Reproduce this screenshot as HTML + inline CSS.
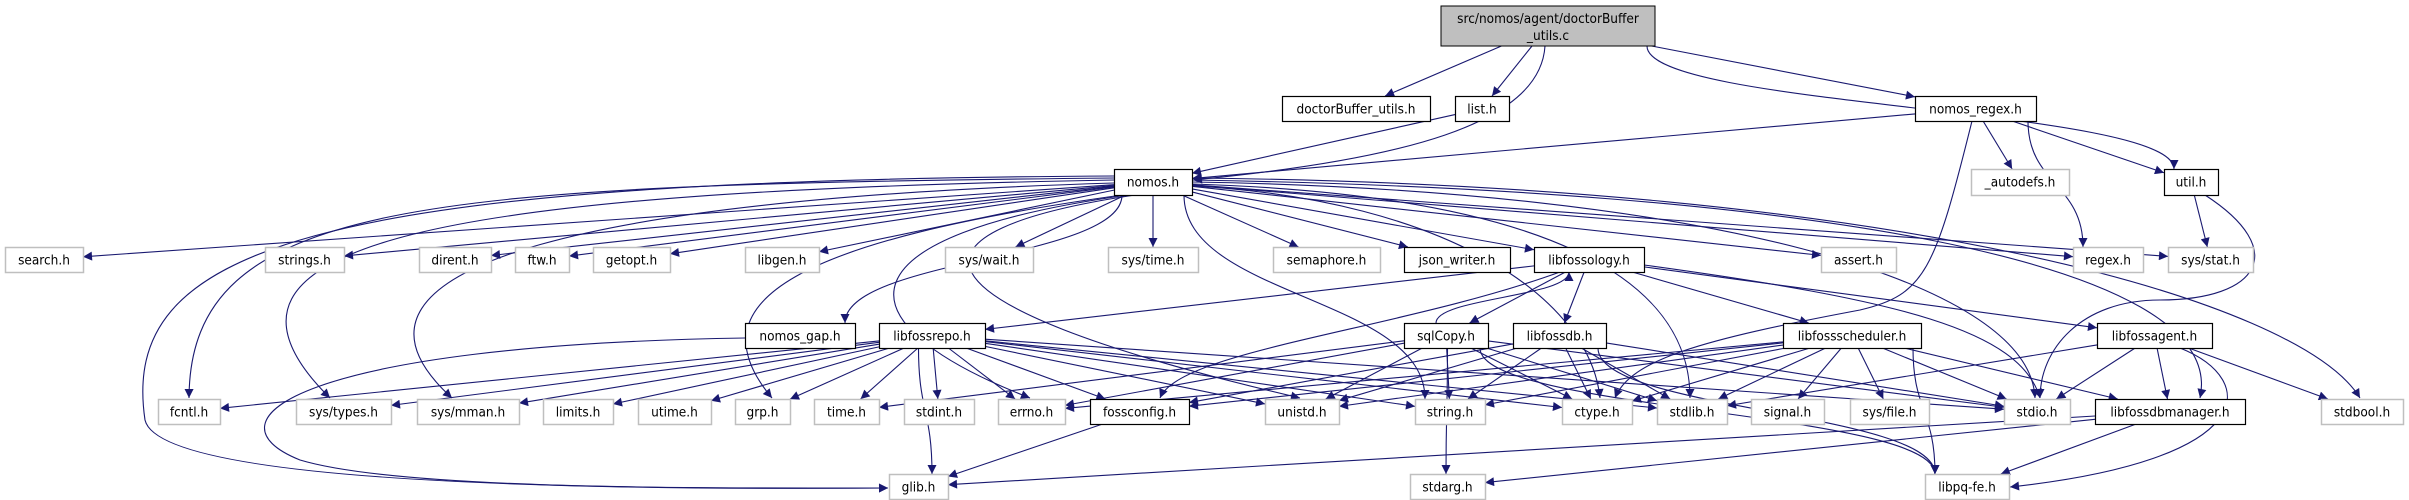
<!DOCTYPE html>
<html><head><meta charset="utf-8">
<style>
html,body{margin:0;padding:0;background:#fff;}
svg{display:block;}
text{font-family:"DejaVu Sans Condensed","DejaVu Sans","Liberation Sans",sans-serif;font-size:13.5px;fill:#000;}
</style></head>
<body>
<svg id="g" width="2409" height="500" viewBox="0 0 2409 500" xmlns="http://www.w3.org/2000/svg">
<defs>
<marker id="a" viewBox="0 0 10 10" refX="10" refY="5" markerWidth="11" markerHeight="9" markerUnits="userSpaceOnUse" orient="auto">
<path d="M0,0 L10,5 L0,10 z" fill="#191970"/>
</marker>
</defs>
<g id="edges"></g>
<g id="nodes">
<rect x="1441" y="6" width="214" height="40" fill="#bfbfbf" stroke="#000"/>
<text x="1548" y="23" text-anchor="middle">src/nomos/agent/doctorBuffer</text>
<text x="1548" y="40" text-anchor="middle">_utils.c</text>
</g>
</svg>
<script>
var R=[[6,46],[96,121],[169,195],[247,272],[323,348],[399,424],[474,499]];
var N={
"doctorBuffer_utils.h":[1282,1430,1,1],"list.h":[1455,1509,1,1],"nomos_regex.h":[1915,2036,1,1],
"nomos.h":[1114,1192,2,1],"_autodefs.h":[1971,2069,2,0],"util.h":[2164,2218,2,1],
"search.h":[5,83,3,0],"strings.h":[265,344,3,0],"dirent.h":[419,491,3,0],"ftw.h":[515,569,3,0],"getopt.h":[593,670,3,0],"libgen.h":[745,819,3,0],"sys/wait.h":[945,1033,3,0],"sys/time.h":[1108,1198,3,0],"semaphore.h":[1273,1380,3,0],"json_writer.h":[1404,1510,3,1],"libfossology.h":[1534,1644,3,1],"assert.h":[1821,1896,3,0],"regex.h":[2073,2143,3,0],"sys/stat.h":[2168,2253,3,0],
"nomos_gap.h":[745,855,4,1],"libfossrepo.h":[879,985,4,1],"sqlCopy.h":[1404,1488,4,1],"libfossdb.h":[1513,1606,4,1],"libfossscheduler.h":[1783,1921,4,1],"libfossagent.h":[2097,2212,4,1],
"fcntl.h":[158,220,5,0],"sys/types.h":[296,391,5,0],"sys/mman.h":[417,519,5,0],"limits.h":[543,613,5,0],"utime.h":[638,711,5,0],"grp.h":[735,790,5,0],"time.h":[814,879,5,0],"stdint.h":[904,974,5,0],"errno.h":[998,1065,5,0],"fossconfig.h":[1090,1189,5,1],"unistd.h":[1265,1339,5,0],"string.h":[1415,1485,5,0],"ctype.h":[1562,1632,5,0],"stdlib.h":[1657,1727,5,0],"signal.h":[1751,1824,5,0],"sys/file.h":[1850,1929,5,0],"stdio.h":[2004,2070,5,0],"libfossdbmanager.h":[2095,2245,5,1],"stdbool.h":[2321,2403,5,0],
"glib.h":[889,948,6,0],"stdarg.h":[1410,1485,6,0],"libpq-fe.h":[1925,2009,6,0]
};
N["ROOT"]=[1441,1655,0,1];
var ns="http://www.w3.org/2000/svg",G=document.getElementById("nodes"),E=document.getElementById("edges");
for(var k in N){if(k=="ROOT")continue;var n=N[k],r=R[n[2]];
var re=document.createElementNS(ns,"rect");re.setAttribute("x",n[0]+.5);re.setAttribute("y",r[0]+.5);re.setAttribute("width",n[1]-n[0]);re.setAttribute("height",r[1]-r[0]);re.setAttribute("fill","#fff");re.setAttribute("stroke",n[3]?"#000":"#bfbfbf");re.setAttribute("stroke-width",n[3]?"1.2":"1.5");G.appendChild(re);
var t=document.createElementNS(ns,"text");t.setAttribute("x",(n[0]+n[1])/2);t.setAttribute("y",r[0]+17.5);t.setAttribute("text-anchor","middle");t.textContent=k;G.appendChild(t);}
function box(k){var n=N[k],r=R[n[2]];return{x1:n[0],x2:n[1],y1:r[0],y2:r[1],cx:(n[0]+n[1])/2,cy:(r[0]+r[1])/2,row:n[2]};}
function clip(b,px,py,qx,qy){var dx=qx-px,dy=qy-py,t=1;
if(dx>0)t=Math.min(t,(b.x2-px)/dx);if(dx<0)t=Math.min(t,(b.x1-px)/dx);
if(dy>0)t=Math.min(t,(b.y2-py)/dy);if(dy<0)t=Math.min(t,(b.y1-py)/dy);return[px+dx*t,py+dy*t];}
function cl(v,a,b){return Math.max(a,Math.min(b,v));}
var O={
"ROOT>nomos.h":"M1545,46 C1540,125 1400,160 1193,180",
"nomos.h>fcntl.h":"M1114,178 C420,185 190,200 189,398",
"nomos.h>sys/types.h":"M1114,180 C450,192 170,240 330,398",
"nomos.h>sys/mman.h":"M1114,183 C620,198 300,260 452,398",
"nomos.h>glib.h":"M1114,176 C300,180 120,250 145,420 C160,485 600,490 888,488",
"nomos.h>grp.h":"M1122,195 C800,240 690,300 772,398",
"nomos.h>errno.h":"M1128,195 C840,235 830,320 1030,398",
"nomos.h>unistd.h":"M1135,195 C900,230 880,300 1300,398",
"nomos.h>ctype.h":"M1192,186 C1450,200 1590,300 1600,398",
"nomos.h>stdlib.h":"M1192,184 C1550,195 1690,280 1690,398",
"nomos.h>stdio.h":"M1192,182 C1700,190 2030,280 2035,398",
"nomos.h>libfossdbmanager.h":"M1192,180 C1800,190 2230,260 2200,398",
"nomos.h>stdbool.h":"M1192,178 C1900,185 2300,300 2360,398",
"libfossology.h>fossconfig.h":"M1560,272 C1400,330 1180,350 1160,398",
"libfossology.h>stdio.h":"M1644,265 C1900,300 2020,330 2040,398",
"nomos_regex.h>ctype.h":"M1972,121 C1935,270 1925,295 1860,310 C1700,340 1630,360 1615,398",
"util.h>stdio.h":"M2205,195 C2290,250 2260,300 2160,300 C2080,300 2040,350 2040,398",
"nomos_gap.h>glib.h":"M745,338 C300,345 200,420 300,460 C400,490 700,488 888,488",
"libfossagent.h>libpq-fe.h":"M2180,348 C2260,380 2260,460 2010,487"
};
function add(d){var pa=document.createElementNS(ns,"path");pa.setAttribute("d",d);pa.setAttribute("fill","none");pa.setAttribute("stroke","#191970");pa.setAttribute("stroke-width","1.1");pa.setAttribute("marker-end","url(#a)");E.appendChild(pa);}
function e(s,t,back){if(O[s+">"+t]){add(O[s+">"+t]);return;}
var a=box(s),b=box(t);
if(back){add("M"+(a.cx-10)+","+a.y1+" C"+(a.cx-10)+","+(a.y1-25)+" "+(b.cx-20)+","+(b.y2+25)+" "+(b.cx-20)+","+b.y2);return;}
var rows=b.row-a.row;
if(rows<=1){var p=clip(a,a.cx,a.cy,b.cx,b.cy),q=clip(b,b.cx,b.cy,a.cx,a.cy);add("M"+p[0]+","+p[1]+" L"+q[0]+","+q[1]);return;}
var sx=cl(b.cx,a.x1+8,a.x2-8),sy=a.y2,tx=cl(a.cx,b.x1+10,b.x2-10),ty=b.y1,h=ty-sy;
add("M"+sx+","+sy+" C"+sx+","+(sy+h*0.5)+" "+tx+","+(ty-h*0.5)+" "+tx+","+ty);}
function m(s,l){l.forEach(function(t){e(s,t);});}
m("ROOT",["doctorBuffer_utils.h","list.h","nomos.h","nomos_regex.h","util.h"]);
m("list.h",["nomos.h"]);
m("nomos_regex.h",["nomos.h","_autodefs.h","regex.h","util.h","ctype.h"]);
m("util.h",["sys/stat.h","stdio.h"]);
m("nomos.h",["search.h","strings.h","dirent.h","ftw.h","getopt.h","libgen.h","sys/wait.h","sys/time.h","semaphore.h","json_writer.h","libfossology.h","assert.h","regex.h","sys/stat.h","nomos_gap.h","fcntl.h","sys/types.h","sys/mman.h","glib.h","errno.h","unistd.h","string.h","ctype.h","stdlib.h","stdio.h","stdbool.h","libfossdbmanager.h","grp.h"]);
m("libfossology.h",["libfossrepo.h","sqlCopy.h","libfossdb.h","libfossscheduler.h","libfossagent.h","fossconfig.h","stdio.h"]);
e("sqlCopy.h","libfossology.h",true);
m("sqlCopy.h",["errno.h","unistd.h","string.h","ctype.h","stdlib.h","stdio.h","time.h","stdarg.h","libpq-fe.h"]);
m("libfossdb.h",["string.h","ctype.h","stdlib.h","unistd.h","stdio.h","libpq-fe.h","fossconfig.h"]);
m("libfossrepo.h",["fcntl.h","sys/types.h","sys/mman.h","limits.h","utime.h","grp.h","time.h","stdint.h","errno.h","fossconfig.h","unistd.h","string.h","ctype.h","stdlib.h","stdio.h","glib.h"]);
m("libfossscheduler.h",["stdlib.h","signal.h","sys/file.h","stdio.h","libfossdbmanager.h","libpq-fe.h","unistd.h","string.h","ctype.h","fossconfig.h","errno.h"]);
m("libfossagent.h",["stdio.h","libfossdbmanager.h","stdbool.h","libpq-fe.h","stdlib.h"]);
m("libfossdbmanager.h",["glib.h","stdarg.h","libpq-fe.h"]);
m("fossconfig.h",["glib.h"]);
m("nomos_gap.h",["glib.h"]);
</script>
</body></html>
